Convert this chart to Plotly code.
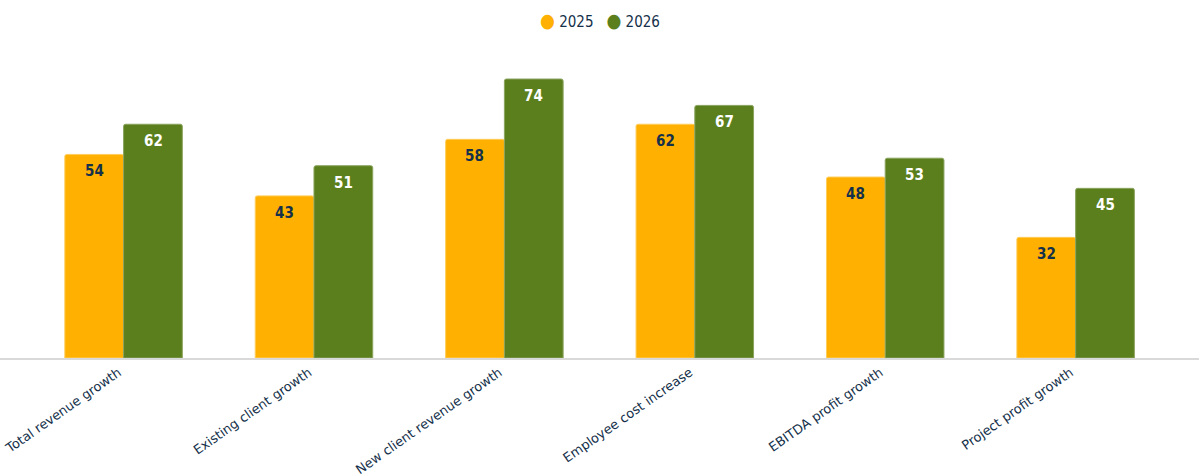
import plotly.graph_objects as go

categories = ["Total revenue growth", "Existing client growth", "New client revenue growth",
              "Employee cost increase", "EBITDA profit growth", "Project profit growth"]
values_2025 = [54, 43, 58, 62, 48, 32]
values_2026 = [62, 51, 74, 67, 53, 45]
series_names = ["2025", "2026"]

c25 = "#FFB000"
c26 = "#5B7F1D"
dark = "#14304A"
COND = "DejaVu Sans Condensed, DejaVu Sans"

fig = go.Figure()
fig.add_trace(go.Bar(x=categories, y=values_2025, name=series_names[0],
                     marker=dict(color=c25, line=dict(color="#FFCD5A", width=1)),
                     showlegend=False))
fig.add_trace(go.Bar(x=categories, y=values_2026, name=series_names[1],
                     marker=dict(color=c26, line=dict(color="#8AA35E", width=1)),
                     showlegend=False))

for vals, shift, tcol in [(values_2025, -29.5, dark), (values_2026, 29.5, "white")]:
    for cat, v in zip(categories, vals):
        fig.add_annotation(x=cat, y=v, xref="x", yref="y", text=str(v), showarrow=False,
                           xshift=shift, yanchor="top", yshift=-6,
                           font=dict(family=COND, size=15, color=tcol, weight="bold"))

legend_text = "   ".join(
    f"<span style='color:{c};font-size:19px'>●</span> {n}" for n, c in zip(series_names, [c25, c26]))
fig.add_annotation(x=0.5, y=1 + 20 / 318, xref="paper", yref="paper", text=legend_text,
                   showarrow=False, xanchor="center", yanchor="middle",
                   font=dict(family=COND, size=15, color=dark))

fig.update_layout(
    width=1199, height=476,
    margin=dict(l=0, r=0, t=40, b=118),
    barmode="group", bargap=0.383, bargroupgap=0,
    barcornerradius=2,
    plot_bgcolor="white", paper_bgcolor="white",
    font=dict(family="DejaVu Sans", color=dark, size=13),
    showlegend=False,
    xaxis=dict(range=[-0.649, 5.648], tickangle=-35, showline=True, linecolor="#D9D9D9", linewidth=2,
               showgrid=False, ticks="", automargin=False, ticklabelstandoff=0, ticklabelshift=-5,
               tickfont=dict(family="DejaVu Sans", size=13, color=dark)),
    yaxis=dict(range=[0, 84.35], showgrid=False, showticklabels=False, zeroline=False, visible=False),
)

fig.write_html("out.html")
